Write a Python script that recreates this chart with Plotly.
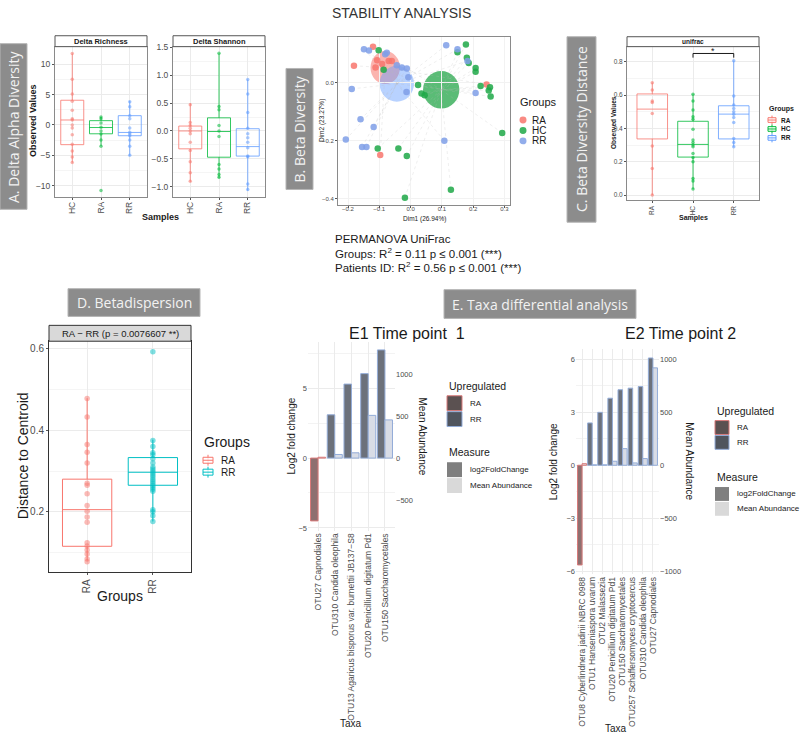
import plotly.graph_objects as go

W, H = 800, 736
SANS = 'Liberation Sans'
BOXFONT = 'Open Sans'
TICK = '#4d4d4d'

# ---------------- A. Delta alpha diversity ----------------
a_groups = ['HC', 'RA', 'RR']
a_colors = ['#F8766D', '#00BA38', '#619CFF']
rich_q1 = [-3.25, -1.46, -1.78]
rich_med = [0.81, -0.43, -1.24]
rich_q3 = [4.06, 0.70, 1.52]
rich_lo = [-6.2, -3.5, -5.1]
rich_hi = [11.75, 1.35, 3.95]
rich_hc = [11.75, 7.5, 5.1, 3.9, 2.4, 1.0, 0.8, 0.0, -0.5, -1.6, -3.2, -4.3, -5.3, -6.2]
rich_ra = [1.3, 1.0, 0.3, -0.4, -1.0, -1.5, -2.5, -3.5, -10.8]
rich_rr = [3.8, 3.0, 1.5, 1.0, -0.5, -1.2, -1.5, -1.8, -2.5, -3.5, -5.0]

sh_q1 = [-0.32, -0.47, -0.45]
sh_med = [0.0, -0.01, -0.28]
sh_q3 = [0.088, 0.235, 0.04]
sh_lo = [-0.91, -0.85, -1.07]
sh_hi = [0.5, 1.39, 0.92]
sh_hc = [0.47, 0.15, 0.1, 0.05, 0.0, -0.05, -0.2, -0.35, -0.55, -0.75, -0.9]
sh_ra = [1.39, 0.44, 0.38, 0.1, 0.0, -0.1, -0.6, -0.68, -0.78, -0.83]
sh_rr = [0.92, 0.66, 0.33, 0.05, -0.05, -0.12, -0.2, -0.3, -0.45, -0.46, -0.95, -1.05]

# ---------------- B. Beta diversity (PCoA) ----------------
b_groups = ['RA', 'HC', 'RR']
b_colors = ['#F8766D', '#1FA848', '#7F9FE8']
b_ell_fill = ['rgba(248,118,109,0.55)', 'rgba(20,160,60,0.70)', 'rgba(97,156,255,0.45)']
b_ra_x = [-0.12, -0.181, -0.097, 0.243, -0.112, -0.091, -0.06, -0.07, -0.107]
b_ra_y = [0.125, 0.059, -0.249, -0.006, 0.053, 0.065, 0.076, 0.076, 0.078]
b_hc_x = [-0.102, -0.105, -0.039, -0.012, -0.018, 0.150, 0.177, 0.180, 0.186, 0.208, 0.208,
          0.224, 0.254, 0.250, 0.256, 0.293, 0.129, 0.024, 0.035, 0.045, -0.086]
b_hc_y = [0.113, -0.227, -0.227, -0.253, -0.397, 0.106, 0.133, 0.087, 0.069, 0.051, 0.038,
          -0.011, -0.015, -0.026, -0.047, -0.173, -0.37, -0.007, -0.037, -0.043, 0.045]
b_rr_x = [-0.149, -0.133, -0.081, -0.188, -0.16, -0.118, -0.207, -0.155, -0.141, 0.114,
          0.150, 0.182, 0.208, 0.108, -0.013, -0.007, -0.044, -0.028, -0.012, -0.076]
b_rr_y = [0.116, 0.112, 0.099, -0.021, -0.126, -0.153, -0.196, -0.222, -0.222, 0.130,
          0.116, 0.076, -0.035, -0.2, -0.032, 0.019, 0.061, 0.053, 0.05, 0.104]
ell_cx = [-0.081, 0.098, -0.044]
ell_cy = [0.053, -0.024, -0.003]
ell_rx = [0.047, 0.058, 0.055]
ell_ry = [0.057, 0.065, 0.062]

# ---------------- C. Beta diversity distance ----------------
c_groups = ['RA', 'HC', 'RR']
c_colors = ['#F8766D', '#00BA38', '#619CFF']
c_q1 = [0.337, 0.228, 0.337]
c_med = [0.516, 0.304, 0.486]
c_q3 = [0.607, 0.443, 0.536]
c_lo = [0.0, 0.036, 0.29]
c_hi = [0.675, 0.605, 0.806]
c_ra = [0.675, 0.63, 0.565, 0.555, 0.49, 0.295, 0.16, 0.0]
c_hc = [0.605, 0.565, 0.51, 0.47, 0.455, 0.395, 0.33, 0.315, 0.3, 0.29, 0.25, 0.225, 0.2, 0.1, 0.085, 0.036]
c_rr = [0.806, 0.595, 0.54, 0.52, 0.5, 0.485, 0.465, 0.435, 0.34, 0.315, 0.29]

# ---------------- D. Betadispersion ----------------
d_groups = ['RA', 'RR']
d_colors = ['#F8766D', '#00BFC4']
d_q1 = [0.115, 0.265]
d_med = [0.205, 0.297]
d_q3 = [0.28, 0.333]
d_lo = [0.08, 0.176]
d_hi = [0.479, 0.377]
d_ra = [0.478, 0.433, 0.365, 0.346, 0.32, 0.27, 0.265, 0.244, 0.215, 0.201, 0.187, 0.174,
        0.124, 0.116, 0.106, 0.096, 0.084, 0.077]
d_rr = [0.593, 0.375, 0.36, 0.345, 0.34, 0.33, 0.32, 0.31, 0.305, 0.3, 0.295, 0.29, 0.285,
        0.28, 0.275, 0.27, 0.265, 0.26, 0.255, 0.25, 0.205, 0.2, 0.19, 0.176]

# ---------------- E. Taxa differential analysis ----------------
abund_scale = 1000 / 6  # secondary axis factor
e1_taxa = ['OTU27 Capnodiales', 'OTU310 Candida oleophila',
           'OTU13 Agaricus bisporus var. burnettii JB137\u2212S8',
           'OTU20 Penicillium digitatum Pd1', 'OTU150 Saccharomycetales']
e1_lfc = [-4.5, 3.1, 5.3, 6.05, 7.75]
e1_abund = [10, 43, 63, 510, 456]
e1_up = ['RA', 'RR', 'RR', 'RR', 'RR']

e2_taxa = ['OTU8 Cyberlindnera jadinii NBRC 0988', 'OTU1 Hanseniaspora uvarum', 'OTU2 Malassezia',
           'OTU20 Penicillium digitatum Pd1', 'OTU150 Saccharomycetales',
           'OTU257 Schaffersomyces cryptocercus', 'OTU310 Candida oleophila', 'OTU27 Capnodiales']
e2_lfc = [-5.65, 2.4, 3.0, 3.8, 4.28, 4.37, 4.46, 6.08]
e2_abund = [15, 4, 4, 38, 157, 22, 63, 920]
e2_up = ['RA', 'RR', 'RR', 'RR', 'RR', 'RR', 'RR', 'RR']

up_fill = {'RA': '#8e7070', 'RR': '#6c717b'}
up_line = {'RA': '#d97a7a', 'RR': '#93acd8'}
ab_fill = {'RA': '#e2d8d8', 'RR': '#d8dce6'}


def px(x):
    return x / W


def py(y):
    return 1 - y / H


fig = go.Figure()
shapes = []
notes = []


def note(text, x, y, size, color='#1a1a1a', angle=0, xanchor='center', family=SANS):
    notes.append(dict(text=text, x=px(x), y=py(y), xref='paper', yref='paper', showarrow=False,
                      textangle=angle, xanchor=xanchor, yanchor='middle',
                      font=dict(family=family, size=size, color=color)))


def rect(x0, y0, x1, y1, fill, line, lw=1):
    shapes.append(dict(type='rect', xref='paper', yref='paper', x0=px(x0), x1=px(x1),
                       y0=py(y1), y1=py(y0), fillcolor=fill, line=dict(color=line, width=lw),
                       layer='above'))


def pline(x0, y0, x1, y1, color, lw=1):
    shapes.append(dict(type='line', xref='paper', yref='paper', x0=px(x0), x1=px(x1),
                       y0=py(y0), y1=py(y1), line=dict(color=color, width=lw), layer='above'))


def label_box(text, x0, y0, x1, y1, vertical):
    rect(x0, y0, x1, y1, '#8c8c8c', '#b5b5b5', 1)
    note(text, (x0 + x1) / 2, (y0 + y1) / 2, 14, '#f2f2f2', -90 if vertical else 0, family=BOXFONT)


def box_icon(x, y, w, h, color):
    pline(x + w / 2, y - h / 2 - 1, x + w / 2, y + h / 2 + 1, color, 1)
    rect(x, y - h / 3, x + w, y + h / 3, 'rgba(255,255,255,0.8)', color, 1)
    pline(x, y, x + w, y, color, 1)


def box_panel(groups, colors, q1, med, q3, lo, hi, pts, xa, ya, width, psize, lw, op):
    for i, g in enumerate(groups):
        fig.add_trace(go.Box(x=[g], q1=[q1[i]], median=[med[i]], q3=[q3[i]],
                             lowerfence=[lo[i]], upperfence=[hi[i]], width=width, whiskerwidth=0,
                             line=dict(color=colors[i], width=lw), fillcolor='rgba(255,255,255,0)',
                             boxpoints=False, xaxis=xa, yaxis=ya, showlegend=False, hoverinfo='skip'))
        fig.add_trace(go.Scatter(x=[g] * len(pts[i]), y=pts[i], mode='markers',
                                 marker=dict(color=colors[i], size=psize, opacity=op, line=dict(width=0)),
                                 xaxis=xa, yaxis=ya, showlegend=False, hoverinfo='skip'))


# A panels
box_panel(a_groups, a_colors, rich_q1, rich_med, rich_q3, rich_lo, rich_hi,
          [rich_hc, rich_ra, rich_rr], 'x', 'y', 0.8, 3.5, 0.8, 0.55)
box_panel(a_groups, a_colors, sh_q1, sh_med, sh_q3, sh_lo, sh_hi,
          [sh_hc, sh_ra, sh_rr], 'x2', 'y2', 0.8, 3.5, 0.8, 0.55)

# B panel: ellipses, spider lines, points
b_pts = [(b_ra_x, b_ra_y), (b_hc_x, b_hc_y), (b_rr_x, b_rr_y)]
for i in range(3):
    shapes.append(dict(type='circle', xref='x3', yref='y3', x0=ell_cx[i] - ell_rx[i],
                       x1=ell_cx[i] + ell_rx[i], y0=ell_cy[i] - ell_ry[i], y1=ell_cy[i] + ell_ry[i],
                       fillcolor=b_ell_fill[i], line=dict(width=0), layer='below'))
sx, sy = [], []
for i, (xs, ys) in enumerate(b_pts):
    for xv, yv in zip(xs, ys):
        sx += [xv, ell_cx[i], None]
        sy += [yv, ell_cy[i], None]
fig.add_trace(go.Scatter(x=sx, y=sy, mode='lines', line=dict(color='rgba(185,185,185,0.45)', width=0.5, dash='dot'),
                         xaxis='x3', yaxis='y3', showlegend=False, hoverinfo='skip'))
for i, (xs, ys) in enumerate(b_pts):
    fig.add_trace(go.Scatter(x=xs, y=ys, mode='markers', marker=dict(color=b_colors[i], size=6.5, opacity=0.85),
                             xaxis='x3', yaxis='y3', showlegend=False, hoverinfo='skip'))

# C panel
box_panel(c_groups, c_colors, c_q1, c_med, c_q3, c_lo, c_hi, [c_ra, c_hc, c_rr],
          'x4', 'y4', 0.75, 3.5, 0.8, 0.6)
shapes.append(dict(type='path', xref='x4', yref='y4', path='M 1,0.825 L 1,0.85 L 2,0.85 L 2,0.825',
                   line=dict(color='#1a1a1a', width=1)))
notes.append(dict(text='*', x=1.5, y=0.865, xref='x4', yref='y4', showarrow=False,
                  font=dict(family=SANS, size=9, color='#1a1a1a')))

# D panel
box_panel(d_groups, d_colors, d_q1, d_med, d_q3, d_lo, d_hi, [d_ra, d_rr],
          'x5', 'y5', 0.75, 5.5, 1.0, 0.5)

# E1 / E2 bars
for taxa, lfc, ab, up, xa, ya, ya2 in [(e1_taxa, e1_lfc, e1_abund, e1_up, 'x6', 'y6', 'y7'),
                                       (e2_taxa, e2_lfc, e2_abund, e2_up, 'x8', 'y8', 'y9')]:
    fig.add_trace(go.Bar(x=taxa, y=lfc, width=0.45, offset=-0.45, xaxis=xa, yaxis=ya,
                         marker=dict(color=[up_fill[u] for u in up],
                                     line=dict(color=[up_line[u] for u in up], width=1)),
                         showlegend=False, hoverinfo='skip'))
    fig.add_trace(go.Bar(x=taxa, y=ab, width=0.45, offset=0, xaxis=xa, yaxis=ya2,
                         marker=dict(color=[ab_fill[u] for u in up],
                                     line=dict(color=[up_line[u] for u in up], width=1)),
                         showlegend=False, hoverinfo='skip'))


def xdom(a, b):
    return [a / W, b / W]


def ydom(top, bottom):
    return [1 - bottom / H, 1 - top / H]


def ggax(dom, rng, anchor, size, **kw):
    d = dict(domain=dom, range=rng, anchor=anchor, showline=True, mirror=True, linecolor='#8a8a8a',
             linewidth=1, showgrid=True, gridcolor='#ebebeb', gridwidth=0.8, zeroline=False,
             ticks='outside', ticklen=2, tickcolor='#555', tickfont=dict(family=SANS, size=size, color=TICK))
    d.update(kw)
    return d


minor_a = dict(showgrid=True, gridcolor='#f5f5f5', gridwidth=0.5)
layout = dict(
    width=W, height=H, margin=dict(l=0, r=0, t=0, b=0), paper_bgcolor='white', plot_bgcolor='white',
    showlegend=False, hovermode=False, barmode='overlay',
    font=dict(family=SANS),
    xaxis=ggax(xdom(55, 147), [-0.6, 2.6], 'y', 8.5, type='category', tickangle=-90,
               categoryorder='array', categoryarray=a_groups, ticklabelstandoff=-2),
    yaxis=ggax(ydom(43, 195), [-11.93, 12.88], 'x', 8.5, tickvals=[-10, -5, 0, 5, 10],
               minor=dict(tickvals=[-7.5, -2.5, 2.5, 7.5], **minor_a)),
    xaxis2=ggax(xdom(173, 265), [-0.6, 2.6], 'y2', 8.5, type='category', tickangle=-90,
                categoryorder='array', categoryarray=a_groups, ticklabelstandoff=-2),
    yaxis2=ggax(ydom(43, 195), [-1.19, 1.51], 'x2', 8.5, tickvals=[-1.0, -0.5, 0.0, 0.5, 1.0, 1.5],
                tickformat='.1f', minor=dict(tickvals=[-0.75, -0.25, 0.25, 0.75, 1.25], **minor_a)),
    xaxis3=ggax(xdom(338, 510), [-0.232, 0.318], 'y3', 6, tickvals=[-0.2, -0.1, 0.0, 0.1, 0.2, 0.3],
                tickformat='.1f', gridcolor='#f2f2f2', ticklabelstandoff=-5),
    yaxis3=ggax(ydom(33, 203), [-0.4235, 0.1595], 'x3', 6, tickvals=[-0.4, -0.2, 0.0],
                tickformat='.1f', gridcolor='#f2f2f2'),
    xaxis4=ggax(xdom(627, 759), [-0.62, 2.62], 'y4', 6.5, type='category', tickangle=-90,
                categoryorder='array', categoryarray=c_groups),
    yaxis4=ggax(ydom(43, 198), [-0.032, 0.891], 'x4', 6.5, tickvals=[0.0, 0.2, 0.4, 0.6, 0.8],
                tickformat='.1f', minor=dict(tickvals=[0.1, 0.3, 0.5, 0.7], **minor_a)),
    xaxis5=ggax(xdom(49, 191), [-0.58, 1.58], 'y5', 10, type='category', tickangle=-90,
                categoryorder='array', categoryarray=d_groups, linecolor='#333'),
    yaxis5=ggax(ydom(340, 573), [0.051, 0.619], 'x5', 10, tickvals=[0.2, 0.4, 0.6], tickformat='.1f',
                linecolor='#333', minor=dict(tickvals=[0.1, 0.3, 0.5], **minor_a)),
    xaxis6=dict(domain=xdom(308, 395), anchor='y6', type='category', range=[-0.6, 4.6],
                categoryorder='array', categoryarray=e1_taxa, tickangle=-90, showgrid=True,
                gridcolor='#ebebeb', ticks='', tickfont=dict(family=SANS, size=8.5, color=TICK)),
    yaxis6=dict(domain=ydom(341, 531), anchor='x6', range=[-5.2, 8.3], tickvals=[-5, 0, 5],
                showgrid=True, gridcolor='#ebebeb', zeroline=False, ticks='',
                minor=dict(tickvals=[-2.5, 2.5, 7.5], showgrid=True, gridcolor='#f3f3f3'),
                tickfont=dict(family=SANS, size=7.5, color=TICK)),
    yaxis7=dict(overlaying='y6', side='right', anchor='x6', range=[-5.2 * abund_scale, 8.3 * abund_scale],
                tickvals=[-500, 0, 500, 1000], showgrid=False, zeroline=False, ticks='',
                tickfont=dict(family=SANS, size=7.5, color=TICK)),
    xaxis8=dict(domain=xdom(576, 659), anchor='y8', type='category', range=[-0.6, 7.6],
                categoryorder='array', categoryarray=e2_taxa, tickangle=-90, showgrid=True,
                gridcolor='#ebebeb', ticks='', tickfont=dict(family=SANS, size=8.5, color=TICK)),
    yaxis8=dict(domain=ydom(348, 575), anchor='x8', range=[-6.18, 6.58], tickvals=[-6, -3, 0, 3, 6],
                showgrid=True, gridcolor='#ebebeb', zeroline=False, ticks='',
                minor=dict(tickvals=[-4.5, -1.5, 1.5, 4.5], showgrid=True, gridcolor='#f3f3f3'),
                tickfont=dict(family=SANS, size=7.5, color=TICK)),
    yaxis9=dict(overlaying='y8', side='right', anchor='x8', range=[-6.18 * abund_scale, 6.58 * abund_scale],
                tickvals=[-1000, -500, 0, 500, 1000], showgrid=False, zeroline=False, ticks='',
                tickfont=dict(family=SANS, size=7.5, color=TICK)),
)

# ---------- decorations: titles, label boxes, strips, legends ----------
note('STABILITY ANALYSIS', 402, 9, 14, '#333')

label_box('A. Delta Alpha Diversity', 0, 40, 27, 207, True)
rect(55, 32, 147, 43, 'white', '#555', 1)
note('<b>Delta Richness</b>', 101, 37.5, 7.5)
rect(173, 32, 265, 43, 'white', '#555', 1)
note('<b>Delta Shannon</b>', 219, 37.5, 7.5)
note('<b>Observed Values</b>', 33, 118, 9, angle=-90)
note('<b>Samples</b>', 160, 215, 9)

label_box('B. Beta Diversity', 286, 65, 313, 187, True)
note('Dim1 (26.94%)', 424, 217, 6.5)
note('Dim2 (23.27%)', 322, 118, 6.5, angle=-90)
note('Groups', 518, 99, 11, xanchor='left')
for i, g in enumerate(b_groups):
    yy = 117 + 10.5 * i
    shapes.append(dict(type='circle', xref='paper', yref='paper', x0=px(519.5), x1=px(526.5),
                       y0=py(yy + 3.5), y1=py(yy - 3.5), fillcolor=b_colors[i], line=dict(width=0),
                       opacity=0.85))
    note(g, 530, yy, 10, xanchor='left')
note('PERMANOVA UniFrac', 333, 237, 11.5, xanchor='left')
note('Groups: R<sup>2</sup> = 0.11 p \u2264 0.001 (***)', 333, 251, 11.5, xanchor='left')
note('Patients ID: R<sup>2</sup> = 0.56 p \u2264 0.001 (***)', 333, 265, 11.5, xanchor='left')

label_box('C. Beta Diversity Distance', 567, 33, 596, 220, True)
rect(627, 33, 759, 43, 'white', '#555', 1)
note('<b>unifrac</b>', 693, 38, 6.5)
note('<b>Observed Values</b>', 613, 120, 6.5, angle=-90)
note('<b>Samples</b>', 693, 216, 7)
note('<b>Groups</b>', 767, 106, 7, xanchor='left')
for i, g in enumerate(c_groups):
    yy = 117 + 9 * i
    box_icon(768, yy, 8, 7, c_colors[i])
    note('<b>' + g + '</b>', 779, yy, 6.5, xanchor='left')

label_box('D. Betadispersion', 68, 287, 200, 315, False)
rect(49, 324, 191, 340, '#d9d9d9', '#333', 1)
note('RA \u2212 RR (p = 0.0076607 **)', 120, 332, 9.5)
note('Distance to Centroid', 23, 456, 14, angle=-90)
note('Groups', 120, 597, 14)
note('Groups', 202, 442, 14, xanchor='left')
for i, g in enumerate(d_groups):
    yy = 460 + 12 * i
    box_icon(203, yy, 10, 9, d_colors[i])
    note(g, 219, yy, 10, xanchor='left')

label_box('E. Taxa differential analysis', 444, 288, 636, 317, False)
note('E1 Time point  1', 407, 332, 16)
note('E2 Time point 2', 680, 332, 16)
note('Log2 fold change', 291, 436, 10, angle=-90)
note('Mean Abundance', 423, 436, 10, angle=90)
note('Taxa', 351, 725, 10)
note('Log2 fold change', 553, 462, 10, angle=-90)
note('Mean Abundance', 690, 461, 10, angle=90)
note('Taxa', 616, 730, 10)

legend_up = ['RA', 'RR']
legend_measure = ['log2FoldChange', 'Mean Abundance']
measure_fill = ['#7f7f7f', '#d9d9d9']
up_swatch = {'RA': '#5b5151', 'RR': '#50555e'}
for lx, ly, sw in [(447, 385, 15), (715, 410, 14)]:
    note('Upregulated', lx, ly, 10.5, xanchor='left')
    for i, u in enumerate(legend_up):
        y0 = ly + 10 + i * (sw + 1)
        rect(lx, y0, lx + sw, y0 + sw, up_swatch[u], up_line[u], 1)
        note(u, lx + sw + 6, y0 + sw / 2, 8, xanchor='left')
    my = ly + 67
    note('Measure', lx, my, 10.5, xanchor='left')
    for i, m in enumerate(legend_measure):
        y0 = my + 10 + i * (sw + 1)
        rect(lx, y0, lx + sw, y0 + sw, measure_fill[i], measure_fill[i], 0)
        note(m, lx + sw + 6, y0 + sw / 2, 8, xanchor='left')

layout['shapes'] = shapes
layout['annotations'] = notes
fig.update_layout(**layout)
# remove the default page margin so the figure sits at the window's top-left corner
fig.write_html('out.html', config={'displayModeBar': False},
               post_script="document.body.style.margin='0px';")
